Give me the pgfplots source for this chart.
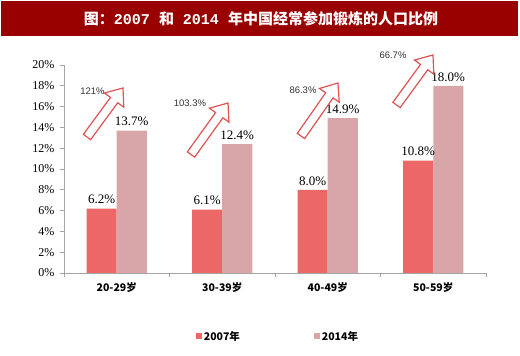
\documentclass[border=0pt]{standalone}
\usepackage{pgfplots}
\pgfplotsset{compat=1.18}
\usepackage{fontspec}
\setmainfont{Liberation Serif}
\newfontfamily\cjk{Noto Sans CJK SC}
\newfontfamily\sansf{Liberation Sans}
\newfontfamily\monof{Liberation Mono}
\definecolor{titlered}{RGB}{153,0,0}
\definecolor{barA}{RGB}{236,104,102}
\definecolor{barB}{RGB}{216,166,168}
\definecolor{axisgray}{RGB}{165,165,165}
\definecolor{arrowred}{RGB}{222,84,84}
\definecolor{lblgray}{RGB}{50,50,50}
\newcommand{\garrow}[4]{%
  \begin{scope}[shift={(#1,#2)}, rotate=#3]
    \draw[arrowred, line width=1.2pt, fill=white, line join=miter]
      (0,-4.5) -- ({#4-15},-4.5) -- ({#4-15},-12) -- (#4,0) -- ({#4-15},12) -- ({#4-15},4.5) -- (0,4.5) -- cycle;
  \end{scope}}
\newcommand{\dg}[1]{{\monof\bfseries #1}}
\begin{document}
\begin{tikzpicture}[x=1pt,y=1pt]
\path[use as bounding box] (0,0) rectangle (520,356);
\fill[titlered] (1,320) rectangle (518,355);
\node[text=white,font=\cjk\bfseries\fontsize{15}{16}\selectfont] at (261,337.5) {图：\dg{2007}\hspace{9pt}和\hspace{9pt}\dg{2014}\hspace{9pt}年中国经常参加锻炼的人口比例};
\begin{axis}[
  at={(64pt,83pt)}, anchor=south west,
  width=422pt, height=208pt, scale only axis,
  xmin=-0.5, xmax=3.5, ymin=0, ymax=20,
  axis x line*=bottom, axis y line*=left,
  axis line style={-, draw=axisgray, line width=0.8pt},
  ytick={0,2,...,20},
  yticklabel={\pgfmathprintnumber{\tick}\%},
  /pgf/number format/assume math mode=true,
  y tick label style={font=\fontsize{12}{12}\selectfont, xshift=-2pt},
  tick align=outside, major tick length=4pt, minor tick length=4pt,
  major y tick style={draw=axisgray, line width=0.8pt},
  major x tick style={draw=none},
  minor x tick style={draw=axisgray, line width=0.8pt},
  xtick={0,1,2,3},
  minor xtick={-0.5,0.5,1.5,2.5,3.5},
  xticklabels={20-29岁,30-39岁,40-49岁,50-59岁},
  x tick label style={font=\cjk\bfseries\fontsize{10.5}{12}\selectfont, yshift=-2pt},
  ybar=0pt, bar width=30pt,
  nodes near coords={\pgfmathprintnumber[fixed,fixed zerofill,precision=1]{\pgfplotspointmeta}\%},
  every node near coord/.append style={font=\fontsize{13}{13}\selectfont, text=black, yshift=1pt},
  legend style={at={(0.507,-0.305)}, anchor=center, draw=none, fill=none,
    legend columns=2, font=\cjk\bfseries\fontsize{10.5}{12}\selectfont,
    /tikz/every even column/.append style={column sep=72pt},
    inner sep=0pt},
  legend cell align=left,
  legend image code/.code={\fill[#1] (0pt,-3pt) rectangle (6pt,3pt);},
  clip=false,
]
\addplot[fill=barA, draw=none] coordinates {(0,6.2)(1,6.1)(2,8.0)(3,10.8)};
\addplot[fill=barB, draw=none] coordinates {(0,13.7)(1,12.4)(2,14.9)(3,18.0)};
\legend{2007年,2014年}
\end{axis}
\garrow{87}{219}{53.7}{60.8}
\garrow{191}{201.5}{54.3}{63.4}
\garrow{301}{220}{55.1}{64.6}
\garrow{396.5}{251}{53.9}{61.9}
\begin{scope}[every node/.style={font=\sansf\fontsize{9.5}{10}\selectfont, text=lblgray, inner sep=0pt}]
\node at (92.5,264.5) {121\%};
\node at (190,253) {103.3\%};
\node at (303,266) {86.3\%};
\node at (393,301) {66.7\%};
\end{scope}
\end{tikzpicture}
\end{document}
